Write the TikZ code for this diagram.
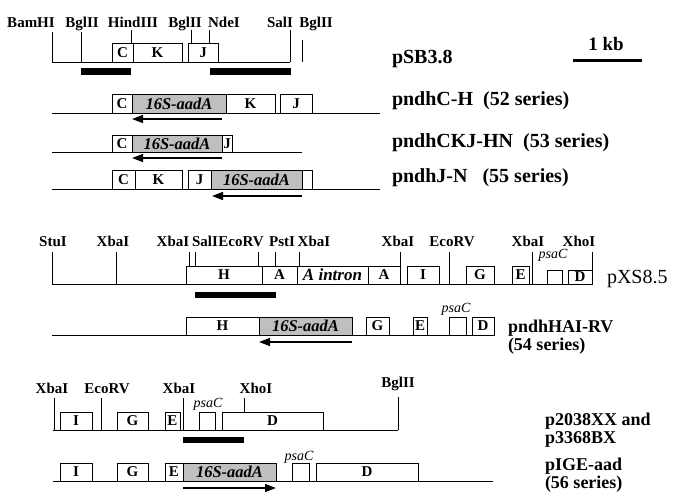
\documentclass[tikz,border=0pt]{standalone}
\usepackage{fontspec}
\setmainfont{Liberation Serif}
\usetikzlibrary{arrows.meta}
\newcommand\gb[7][]{%
  \pgfmathsetmacro\gbw{#4-#3}\pgfmathsetmacro\gbh{#6-#5}%
  \node[gene,#1,minimum width=\gbw pt,minimum height=\gbh pt,anchor=south west] (#2) at (#3,#6) {#7};}
\begin{document}
\begin{tikzpicture}[x=1pt,y=-1pt,
  every node/.style={inner sep=0pt,outer sep=0pt},
  gene/.style={draw,fill=white,line width=1pt,font=\fontsize{15}{15}\selectfont\bfseries},
  shaded/.style={fill=black!25,font=\fontsize{16.5}{16.5}\selectfont\bfseries\itshape},
  itgene/.style={font=\fontsize{17}{17}\selectfont\bfseries\itshape},
  site/.style={anchor=base,font=\fontsize{15}{15}\selectfont\bfseries},
  psa/.style={anchor=base,font=\fontsize{14}{14}\selectfont\itshape},
  plabel/.style={anchor=base west,font=\fontsize{20}{20}\selectfont\bfseries},
  plabelsm/.style={anchor=base west,font=\fontsize{18}{18}\selectfont\bfseries},
  dna/.style={line width=1pt},
  tick/.style={line width=1pt},
  bar/.style={fill=black},
  arr/.style={line width=1.4pt,-{Triangle[length=11pt,width=8pt]}}]
\useasboundingbox (0,0) rectangle (678,501);

% ---------- pSB3.8 ----------
\draw[dna] (52,62) -- (290,62);
\draw[tick] (52,32) -- (52,62) (81,32) -- (81,62) (131,30) -- (131,43)
  (191,30) -- (191,43) (209,30) -- (209,43) (290,30) -- (290,62) (302,40) -- (302,62);
\gb{c1}{112}{133}{43}{62}{C}
\gb{k1}{133}{182}{43}{62}{K}
\gb{j1}{188}{218}{43}{62}{J}
\node[site] (r1a) at (31,27) {BamHI};
\node[site] (r1b) at (82,27) {BglII};
\node[site] (r1c) at (133,27) {HindIII};
\node[site] (r1d) at (185,27) {BglII};
\node[site] (r1e) at (224,27) {NdeI};
\node[site] (r1f) at (280,27) {SalI};
\node[site] (r1g) at (316,27) {BglII};
\fill[bar] (81,68) rectangle (131,75);
\fill[bar] (210,68) rectangle (291,75);
\node[plabel] (p1) at (392,63) {pSB3.8};
\node[anchor=base,font=\fontsize{19}{19}\selectfont\bfseries] (kb) at (606,50) {1 kb};
\coordinate (kbl) at (573,60); \coordinate (kbr) at (642,60);
\draw[line width=3pt] (kbl) -- (kbr);

% ---------- pndhC-H ----------
\draw[dna] (52,113) -- (380,113);
\gb{c2}{112}{132}{94}{113}{C}
\gb[shaded]{a2}{132}{226}{94}{113}{16S-aadA}
\gb{k2}{226}{275}{94}{113}{K}
\gb{j2}{280}{312}{94}{113}{J}
\coordinate (a2s) at (222,119); \coordinate (a2e) at (132,119);
\draw[arr] (a2s) -- (a2e);
\node[plabel] (p2) at (392,105) {pndhC-H\ \ (52 series)};

% ---------- pndhCKJ-HN ----------
\draw[dna] (52,152) -- (302,152);
\gb{c3}{112}{132}{135}{152}{C}
\gb[shaded]{a3}{132}{222}{135}{152}{16S-aadA}
\gb{j3}{222}{232}{135}{152}{J}
\coordinate (a3s) at (222,158); \coordinate (a3e) at (132,158);
\draw[arr] (a3s) -- (a3e);
\node[plabel] (p3) at (392,147) {pndhCKJ-HN\ \ (53 series)};

% ---------- pndhJ-N ----------
\draw[dna] (52,189) -- (380,189);
\gb{c4}{112}{135}{170}{189}{C}
\gb{k4}{135}{182}{170}{189}{K}
\gb{j4}{188}{211}{170}{189}{J}
\gb[shaded]{a4}{211}{302}{170}{189}{16S-aadA}
\gb{x4}{302}{312}{170}{189}{}
\coordinate (a4s) at (302,196); \coordinate (a4e) at (212,196);
\draw[arr] (a4s) -- (a4e);
\node[plabel] (p4) at (392,182) {pndhJ-N\ \ \ (55 series)};

% ---------- pXS8.5 ----------
\draw[dna] (52,284) -- (592,284);
\draw[tick] (52,252) -- (52,284) (116,252) -- (116,284) (189,252) -- (189,266)
  (195,252) -- (195,266) (258,252) -- (258,266) (275,252) -- (275,266)
  (299,252) -- (299,266) (400,252) -- (400,266) (449,252) -- (449,284)
  (532,252) -- (532,284) (592,252) -- (592,284);
\gb{h5}{186}{262}{266}{284}{H}
\gb{a5}{262}{297}{266}{284}{A}
\gb[itgene]{ai5}{297}{368}{266}{284}{A intron}
\gb{b5}{368}{400}{266}{284}{A}
\gb{i5}{407}{439}{266}{284}{I}
\gb{g5}{466}{494}{266}{284}{G}
\gb{e5}{512}{529}{266}{284}{E}
\gb{q5}{547}{562}{270}{284}{}
\gb{d5}{568}{592}{270}{284}{D}
\node[site] (r5a) at (53,246) {StuI};
\node[site] (r5b) at (113,246) {XbaI};
\node[site] (r5c) at (173,246) {XbaI};
\node[site] (r5d) at (205,246) {SalI};
\node[site] (r5e) at (241,246) {EcoRV};
\node[site] (r5f) at (282,246) {PstI};
\node[site] (r5g) at (314,246) {XbaI};
\node[site] (r5h) at (398,246) {XbaI};
\node[site] (r5i) at (452,246) {EcoRV};
\node[site] (r5j) at (528,246) {XbaI};
\node[site] (r5k) at (579,246) {XhoI};
\node[psa] (ps5) at (553,258) {psaC};
\fill[bar] (195,292) rectangle (276,298);
\node[anchor=base west,font=\fontsize{20}{20}\selectfont] (p5) at (607,283) {pXS8.5};

% ---------- pndhHAI-RV ----------
\draw[dna] (52,335) -- (494,335);
\gb{h6}{186}{259}{317}{335}{H}
\gb[shaded]{a6}{259}{352}{317}{335}{16S-aadA}
\gb{g6}{366}{389}{317}{335}{G}
\gb{e6}{413}{427}{317}{335}{E}
\gb{q6}{449}{466}{317}{335}{}
\gb{d6}{472}{494}{317}{335}{D}
\node[psa] (ps6) at (456,312) {psaC};
\coordinate (a6s) at (352,342); \coordinate (a6e) at (259,342);
\draw[arr] (a6s) -- (a6e);
\node[plabelsm] (p6) at (508,332) {pndhHAI-RV};
\node[plabelsm] (p6b) at (508,350) {(54 series)};

% ---------- p2038XX ----------
\draw[dna] (53,430) -- (398,430);
\draw[tick] (54,398) -- (54,430) (101,398) -- (101,430) (183,398) -- (183,430)
  (244,398) -- (244,412) (398,397) -- (398,430);
\gb{i7}{60}{92}{412}{430}{I}
\gb{g7}{117}{148}{412}{430}{G}
\gb{e7}{165}{180}{412}{430}{E}
\gb{q7}{199}{215}{412}{430}{}
\gb{d7}{222}{323}{412}{430}{D}
\node[site] (r7a) at (52,393) {XbaI};
\node[site] (r7b) at (107,393) {EcoRV};
\node[site] (r7c) at (179,393) {XbaI};
\node[site] (r7d) at (256,393) {XhoI};
\node[site] (r7e) at (398,387) {BglII};
\node[psa] (ps7) at (208,407) {psaC};
\fill[bar] (183,437) rectangle (244,443);
\node[plabelsm] (p7) at (545,425) {p2038XX and};
\node[plabelsm] (p7b) at (545,443) {p3368BX};

% ---------- pIGE-aad ----------
\draw[dna] (53,481) -- (493,481);
\gb{i8}{60}{92}{463}{481}{I}
\gb{g8}{117}{148}{463}{481}{G}
\gb{e8}{165}{183}{463}{481}{E}
\gb[shaded]{a8}{183}{276}{463}{481}{16S-aadA}
\gb{q8}{292}{309}{463}{481}{}
\gb{d8}{316}{418}{463}{481}{D}
\node[psa] (ps8) at (299,460) {psaC};
\coordinate (a8s) at (183,488); \coordinate (a8e) at (276,488);
\draw[arr] (a8s) -- (a8e);
\node[plabelsm] (p8) at (545,470) {pIGE-aad};
\node[plabelsm] (p8b) at (545,488) {(56 series)};
\end{tikzpicture}
\end{document}
